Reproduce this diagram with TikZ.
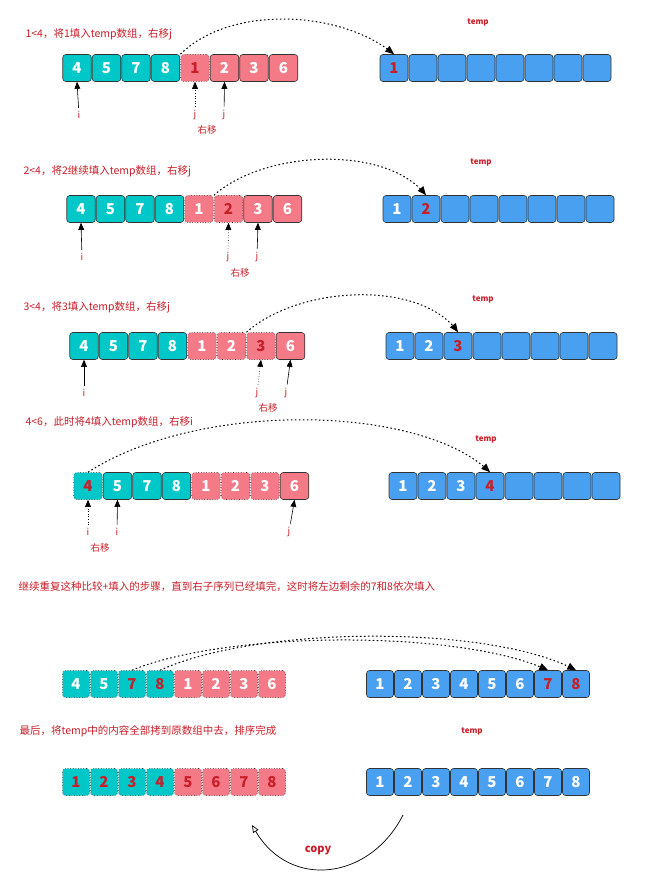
\documentclass[tikz,border=0pt]{standalone}
\usepackage{fontspec}
\setmainfont{Noto Sans CJK SC}
\usetikzlibrary{positioning}
\usetikzlibrary{arrows}
\definecolor{teal}{RGB}{0,200,200}
\definecolor{pink}{RGB}{245,122,135}
\definecolor{blue}{RGB}{74,160,240}
\definecolor{red}{RGB}{200,30,40}
\tikzset{
  cell/.style={draw=black!80, rounded corners=3, minimum height=27, inner sep=0,
    font=\fontsize{15}{15}\selectfont\bfseries},
  sd/.style={solid, line width=0.6},
  dt/.style={dotted, line width=0.6},
  note/.style={text=red, font=\fontsize{10.5}{12}\selectfont, anchor=west},
  small/.style={text=red, font=\fontsize{9.5}{10}\selectfont},
  tmp/.style={text=red, font=\fontsize{8}{10}\selectfont\bfseries},
  ptr/.style={-triangle 45, line width=0.6},
  arc/.style={-triangle 45, line width=1, dash pattern=on 1.6pt off 2.4pt},
}
% name, x, y, step, list of number/fill/text/border
\newcommand{\cellrow}[5]{%
  \foreach \v/\c/\t/\b [count=\k] in {#5} {
    \node[cell, minimum width=#4-1, fill=\c, text=\t, \b] (#1\k) at ({#2+(\k-1)*#4}, #3) {\v};
  }}
\begin{document}
\begin{tikzpicture}[x=1pt, y=-1pt]
  \useasboundingbox (0,0) rectangle (653,874);
  % row 1 %
  \node[note] (n1) at (22,34) {1<4，将1填入temp数组，右移j};
  \node[tmp] (t1) at (478,22) {temp};
  \cellrow{a}{77}{68}{29.5}{4/teal/white/sd,5/teal/white/sd,7/teal/white/sd,8/teal/white/sd,1/pink/red/dt,2/pink/white/sd,3/pink/white/sd,6/pink/white/sd}
  \cellrow{b}{394}{68}{29}{1/blue/red/sd,/blue/white/sd,/blue/white/sd,/blue/white/sd,/blue/white/sd,/blue/white/sd,/blue/white/sd,/blue/white/sd}
  \node[small] (ai) at (79,115) {i};
  \node[small] (aj) at (195,115) {j};
  \node[small] (ak) at (224,115) {j};
  \node[small] (am) at (207,130) {右移};
  \draw[ptr] (ai) -- (a1.south);
  \draw[ptr, dotted] (aj) -- (a5.south);
  \draw[ptr] (ak) -- (a6.south);
  \draw[arc] (a5.north west) .. controls (230,5) and (340,10) .. (b1.north);
  % row 2 %
  \node[note] (n2) at (20,171) {2<4，将2继续填入temp数组，右移j};
  \node[tmp] (t2) at (481,162) {temp};
  \cellrow{c}{81}{209}{29.5}{4/teal/white/sd,5/teal/white/sd,7/teal/white/sd,8/teal/white/sd,1/pink/white/dt,2/pink/red/dt,3/pink/white/sd,6/pink/white/sd}
  \cellrow{d}{397}{209}{29}{1/blue/white/sd,2/blue/red/sd,/blue/white/sd,/blue/white/sd,/blue/white/sd,/blue/white/sd,/blue/white/sd,/blue/white/sd}
  \node[small] (ci) at (82,257) {i};
  \node[small] (cj) at (228,257) {j};
  \node[small] (ck) at (257,257) {j};
  \node[small] (cm) at (240,273) {右移};
  \draw[ptr] (ci) -- (c1.south);
  \draw[ptr, dotted] (cj) -- (c6.south);
  \draw[ptr] (ck) -- (c7.south);
  \draw[arc] (c6.north west) .. controls (265,150) and (385,145) .. (d2.north);
  % row 3 %
  \node[note] (n3) at (20,307) {3<4，将3填入temp数组，右移j};
  \node[tmp] (t3) at (483,299) {temp};
  \cellrow{e}{84}{346}{29.5}{4/teal/white/sd,5/teal/white/sd,7/teal/white/sd,8/teal/white/sd,1/pink/white/dt,2/pink/white/dt,3/pink/red/dt,6/pink/white/sd}
  \cellrow{f}{400}{346}{29}{1/blue/white/sd,2/blue/white/sd,3/blue/red/sd,/blue/white/sd,/blue/white/sd,/blue/white/sd,/blue/white/sd,/blue/white/sd}
  \node[small] (ei) at (84,393) {i};
  \node[small] (ej) at (257,393) {j};
  \node[small] (ek) at (286,393) {j};
  \node[small] (em) at (268,408) {右移};
  \draw[ptr] (ei) -- (e1.south);
  \draw[ptr, dotted] (ej) -- (e7.south);
  \draw[ptr] (ek) -- (e8.south);
  \draw[arc] (e7.north west) .. controls (300,285) and (420,280) .. (f3.north);
  % row 4 %
  \node[note] (n4) at (22,422) {4<6，此时将4填入temp数组，右移i};
  \node[tmp] (t4) at (486,439) {temp};
  \cellrow{g}{88}{486}{29.5}{4/teal/red/dt,5/teal/white/sd,7/teal/white/sd,8/teal/white/sd,1/pink/white/dt,2/pink/white/dt,3/pink/white/dt,6/pink/white/sd}
  \cellrow{h}{403}{486}{29}{1/blue/white/sd,2/blue/white/sd,3/blue/white/sd,4/blue/red/sd,/blue/white/sd,/blue/white/sd,/blue/white/sd,/blue/white/sd}
  \node[small] (gi) at (88,532) {i};
  \node[small] (gk) at (117,532) {i};
  \node[small] (gj) at (289,532) {j};
  \node[small] (gm) at (100,548) {右移};
  \draw[ptr, dotted] (gi) -- (g1.south);
  \draw[ptr] (gk) -- (g2.south);
  \draw[ptr] (gj) -- (g8.south);
  \draw[arc] (g1.north) .. controls (200,400) and (420,405) .. (h4.north);
  % row 5 %
  \node[note] (n5) at (15,587) {继续重复这种比较+填入的步骤，直到右子序列已经填完，这时将左边剩余的7和8依次填入};
  \cellrow{p}{76}{684}{28}{4/teal/white/dt,5/teal/white/dt,7/teal/red/dt,8/teal/red/dt,1/pink/white/dt,2/pink/white/dt,3/pink/white/dt,6/pink/white/dt}
  \cellrow{q}{380}{684}{28}{1/blue/white/sd,2/blue/white/sd,3/blue/white/sd,4/blue/white/sd,5/blue/white/sd,6/blue/white/sd,7/blue/red/sd,8/blue/red/sd}
  \draw[arc] (p3.north) .. controls (230,630) and (460,630) .. (q7.north);
  \draw[arc] (p4.north) .. controls (260,625) and (490,625) .. (q8.north);
  % row 6 %
  \node[note] (n6) at (16,731) {最后，将temp中的内容全部拷到原数组中去，排序完成};
  \node[tmp] (t6) at (472,731) {temp};
  \cellrow{r}{76}{782}{28}{1/teal/red/dt,2/teal/red/dt,3/teal/red/dt,4/teal/red/dt,5/pink/red/dt,6/pink/red/dt,7/pink/red/dt,8/pink/red/dt}
  \cellrow{s}{380}{782}{28}{1/blue/white/sd,2/blue/white/sd,3/blue/white/sd,4/blue/white/sd,5/blue/white/sd,6/blue/white/sd,7/blue/white/sd,8/blue/white/sd}
  \coordinate (c1) at (403,815);
  \coordinate (c2) at (252,825);
  \node[text=red, font=\fontsize{11}{12}\selectfont\bfseries] (cp) at (318,850) {copy};
  \draw[-open triangle 45, line width=0.7] (c1) .. controls (370,880) and (290,890) .. (c2);
\end{tikzpicture}
\end{document}
